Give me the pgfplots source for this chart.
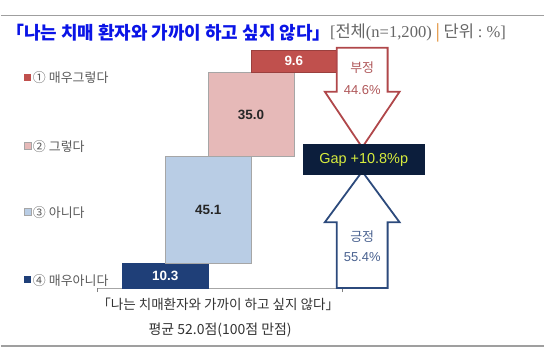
\documentclass[border=0pt]{standalone}
\usepackage{fontspec}
\setmainfont{Noto Sans CJK KR}
\newfontfamily\serif{Liberation Serif}
\newfontfamily\lsans{Liberation Sans}
\usepackage{pgfplots}
\pgfplotsset{compat=1.18}
\definecolor{cRed}{HTML}{C0504D}
\definecolor{cPink}{HTML}{E6B9B8}
\definecolor{cBlue}{HTML}{B9CDE5}
\definecolor{cNavy}{HTML}{1F3F78}
\definecolor{cEdge}{HTML}{A6A6A6}
\definecolor{cTitle}{HTML}{0A14E6}
\definecolor{cGapBox}{HTML}{0C1E3C}
\definecolor{cGapTxt}{HTML}{D7EC3C}
\definecolor{cArrR}{HTML}{B0474A}
\definecolor{cArrB}{HTML}{2C4A7C}
\definecolor{cTxtR}{HTML}{B0585A}
\definecolor{cTxtB}{HTML}{4A6290}
\definecolor{cLeg}{HTML}{5A5A5A}
\definecolor{cOrange}{HTML}{E08A2C}
\newcommand{\fs}[1]{\fontsize{#1}{#1}\selectfont}
\begin{document}
\begin{tikzpicture}[x=1pt,y=1pt]
\path (0,0) rectangle (545,357);
% frame lines
\draw[gray!75, line width=1.2pt] (0,357-15.5) -- (545,357-15.5);
\draw[gray!75, line width=1.8pt] (0,357-347) -- (545,357-347);
% titles
\node[anchor=west, inner sep=0, text=cTitle, font=\bfseries\fs{18}] at (5,357-33) {「나는 치매 환자와 가까이 하고 싶지 않다」};
\node[anchor=west, inner sep=0, text=gray!80!black, font=\fs{16.6}] at (330,357-33) {{\serif[}전체{\serif(n=1,200)}\ {\color{cOrange}|}\ 단위 {\serif:\ \%]}};
\begin{axis}[
  at={(97pt,68pt)}, anchor=south west,
  x=43pt, y=2.39pt,
  xmin=-1.58, xmax=4.88, ymin=0, ymax=100,
  clip=false,
  axis x line*=bottom, axis y line=none,
  x axis line style={draw=cEdge, line width=0.8pt, -},
  xtick={-1.58,4.14}, xticklabels={},
  tick align=outside, major tick length=4pt,
  tick style={draw=gray, line width=0.6pt},
  ytick=\empty,
]
% floating (waterfall) bars: base, base+value
\addplot[fill=cNavy, draw=cNavy, line width=0.6pt] coordinates {(-1,0) (1,0) (1,10.3) (-1,10.3)} -- cycle;
\addplot[fill=cBlue, draw=cEdge, line width=0.6pt] coordinates {(0,10.3) (2,10.3) (2,55.4) (0,55.4)} -- cycle;
\addplot[fill=cPink, draw=cEdge, line width=0.6pt] coordinates {(1,55.4) (3,55.4) (3,90.4) (1,90.4)} -- cycle;
\addplot[fill=cRed, draw=cRed!80!black, line width=0.6pt] coordinates {(2,90.4) (4,90.4) (4,100) (2,100)} -- cycle;
\node[text=white, font=\lsans\bfseries\fs{13.5}] at (axis cs:0,5.15) {10.3};
\node[text=black!85, font=\lsans\bfseries\fs{13.5}] at (axis cs:1,32.85) {45.1};
\node[text=black!85, font=\lsans\bfseries\fs{13.5}] at (axis cs:2,72.9) {35.0};
\node[text=white, font=\lsans\bfseries\fs{13.5}] at (axis cs:3,95.2) {9.6};
\end{axis}
% legend-like labels
\fill[cRed] (23,357-81) rectangle (30,357-74);
\node[anchor=west, inner sep=0, text=cLeg, font=\fs{13}] at (32,357-78) {① 매우그렇다};
\filldraw[fill=cPink, draw=cEdge, line width=0.5pt] (23,357-150) rectangle (30,357-143);
\node[anchor=west, inner sep=0, text=cLeg, font=\fs{13}] at (32,357-147) {② 그렇다};
\filldraw[fill=cBlue, draw=cEdge, line width=0.5pt] (23,357-216) rectangle (30,357-209);
\node[anchor=west, inner sep=0, text=cLeg, font=\fs{13}] at (32,357-213) {③ 아니다};
\fill[cNavy] (23,357-284) rectangle (30,357-277);
\node[anchor=west, inner sep=0, text=cLeg, font=\fs{13}] at (32,357-281) {④ 매우아니다};
% arrows
\filldraw[fill=white, draw=cArrR, line width=1.8pt, line join=miter]
  (337,357-48) -- (388,357-48) -- (388,357-92) -- (400,357-92) -- (362.5,357-148)
  -- (325,357-92) -- (337,357-92) -- cycle;
\filldraw[fill=white, draw=cArrB, line width=1.8pt, line join=miter]
  (337,357-289) -- (388,357-289) -- (388,357-223) -- (400,357-223) -- (362.5,357-172)
  -- (325,357-223) -- (337,357-223) -- cycle;
\node[text=cTxtR, font=\fs{13}] at (362.5,357-68) {부정};
\node[text=cTxtR, font=\lsans\fs{13}] at (362.5,357-90) {44.6\%};
\node[text=cTxtB, font=\fs{13}] at (362.5,357-237) {긍정};
\node[text=cTxtB, font=\lsans\fs{13}] at (362.5,357-258) {55.4\%};
% gap box
\fill[cGapBox] (303,357-176) rectangle (425,357-144);
\node[text=cGapTxt, font=\lsans\fs{14.5}] at (364,357-160) {Gap +10.8\%p};
% bottom caption
\node[text=black!80, font=\fs{13.6}] at (218,357-305) {「나는 치매환자와 가까이 하고 싶지 않다」};
\node[text=black!80, font=\fs{14}] at (220,357-331) {평균 52.0점(100점 만점)};
\end{tikzpicture}
\end{document}
